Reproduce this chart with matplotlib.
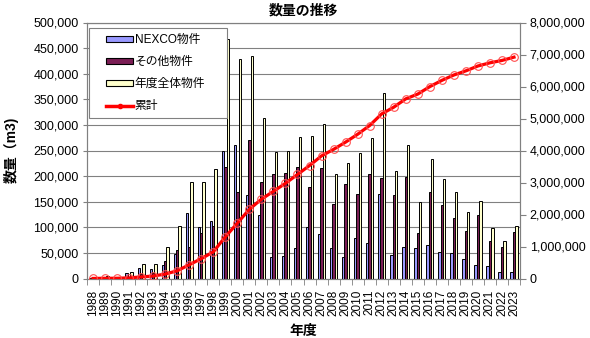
import matplotlib
matplotlib.use("Agg")
import matplotlib.pyplot as plt
from matplotlib.patches import Patch, Rectangle
from matplotlib.lines import Line2D
from matplotlib.ticker import FuncFormatter, FixedLocator

plt.rcParams['font.family'] = ['Liberation Sans', 'Noto Sans CJK JP']

years = [str(y) for y in range(1988, 2024)]

nexco = [1000, 3000, 500, 11000, 21000, 18000, 27000, 47000, 128000, 100000,
         112000, 250000, 261000, 164000, 125000, 42000, 44000, 59000, 101000, 87000,
         59000, 42000, 80000, 70000, 166000, 46000, 62000, 60000, 65000, 51000,
         49000, 38000, 27000, 25000, 12000, 13000]

other = [1000, 2000, 500, 1000, 8000, 10000, 35000, 55000, 61000, 89000,
         102000, 218000, 168000, 270000, 189000, 205000, 206000, 217000, 178000, 215000,
         145000, 184000, 165000, 204000, 197000, 163000, 199000, 89000, 168000, 144000,
         119000, 92000, 125000, 74000, 62000, 90000]

total = [2000, 5000, 1000, 12000, 29000, 28000, 62000, 102000, 189000, 189000,
         214000, 468000, 429000, 434000, 314000, 247000, 250000, 276000, 279000, 302000,
         204000, 226000, 245000, 274000, 363000, 209000, 261000, 149000, 233000, 195000,
         168000, 130000, 152000, 99000, 74000, 103000]

cumulative = [2000, 7000, 8000, 20000, 49000, 77000, 139000, 241000, 430000, 619000,
              833000, 1301000, 1730000, 2164000, 2478000, 2725000, 2975000, 3251000, 3530000, 3832000,
              4036000, 4262000, 4507000, 4781000, 5144000, 5353000, 5614000, 5763000, 5996000, 6191000,
              6359000, 6489000, 6641000, 6740000, 6814000, 6917000]

series_labels = ['NEXCO物件', 'その他物件', '年度全体物件', '累計']
colors = ['#9999FF', '#7B1E55', '#FFFFCC', '#FF0000']

W, H = 590, 338
fig = plt.figure(figsize=(W / 100, H / 100), dpi=100)
L, R, T, B = 87, 520, 22.5, 278.5
ax = fig.add_axes([L / W, 1 - B / H, (R - L) / W, (B - T) / H])
ax2 = ax.twinx()

x = list(range(len(years)))
bw = 0.2
ax.bar([i - bw for i in x], nexco, width=bw, color=colors[0], edgecolor='black', linewidth=0.7, zorder=3)
ax.bar(x, other, width=bw, color=colors[1], edgecolor='black', linewidth=0.7, zorder=3)
ax.bar([i + bw for i in x], total, width=bw, color=colors[2], edgecolor='black', linewidth=0.7, zorder=3)

ax.set_xlim(-0.5, len(years) - 0.5)
ax.set_ylim(0, 500000)
ax.set_yticks(range(0, 500001, 50000))
ax.yaxis.set_major_formatter(FuncFormatter(lambda v, p: f"{int(v):,}"))
ax.grid(axis='y', color='#808080', linewidth=0.8, zorder=0)
ax.set_axisbelow(True)
ax.set_xticks(x)
ax.set_xticklabels(years, rotation=90, fontsize=8.5)
ax.xaxis.set_minor_locator(FixedLocator([i + 0.5 for i in range(-1, len(years))]))
ax.tick_params(axis='x', which='major', length=0, pad=8)
ax.tick_params(axis='x', which='minor', length=4, color='#808080')
ax.tick_params(axis='y', labelsize=9, length=3, pad=3, color='#808080')

ax2.plot(x, cumulative, color=colors[3], linewidth=2.3, marker='o', markersize=5.5,
         markerfacecolor='none', markeredgecolor='#FF5050', markeredgewidth=0.8, zorder=4)
ax2.set_ylim(0, 8000000)
ax2.set_yticks(range(0, 8000001, 1000000))
ax2.yaxis.set_major_formatter(FuncFormatter(lambda v, p: f"{int(v):,}"))
ax2.tick_params(axis='y', labelsize=9, length=4, pad=3, color='#808080')

for a in (ax, ax2):
    for s in a.spines.values():
        s.set_color('#808080')
        s.set_linewidth(0.8)

# legend frame
rect = Rectangle((89 / W, 1 - 118 / H), (227 - 89) / W, (118 - 28) / H, transform=fig.transFigure,
                 facecolor='white', edgecolor='#808080', linewidth=0.8, zorder=8, clip_on=False)
ax2.add_patch(rect)
handles = [Patch(facecolor=colors[0], edgecolor='black', linewidth=0.8),
           Patch(facecolor=colors[1], edgecolor='black', linewidth=0.8),
           Patch(facecolor=colors[2], edgecolor='black', linewidth=0.8),
           Line2D([], [], color=colors[3], linewidth=2.5, marker='o', markersize=3)]
leg = ax2.legend(handles, series_labels, loc='upper left', bbox_to_anchor=(106 / W, 1 - 34 / H),
                 bbox_transform=fig.transFigure, frameon=False, fontsize=8.5, handlelength=2.3,
                 handleheight=0.35, handletextpad=0.15, labelspacing=0.85, borderpad=0, borderaxespad=0)
leg.set_zorder(10)

fig.text(303 / W, 1 - 10 / H, '数量の推移', ha='center', va='center', fontsize=10, fontweight='bold')
fig.text(11 / W, 1 - 150 / H, '数量（m3)', ha='center', va='center', rotation=90, fontsize=10, fontweight='bold')
fig.text(303 / W, 1 - 331 / H, '年度', ha='center', va='center', fontsize=10, fontweight='bold')

fig.savefig('out.png', dpi=100, facecolor='white')
